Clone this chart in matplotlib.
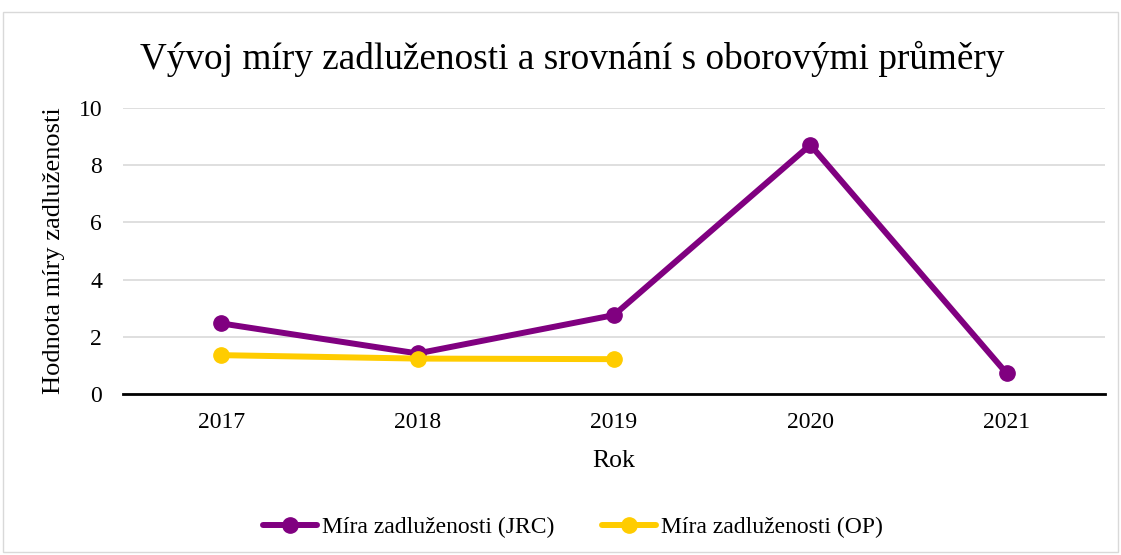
import numpy as np
import matplotlib.pyplot as plt
from matplotlib.patches import Rectangle

# data
years = ["2017", "2018", "2019", "2020", "2021"]
jrc = [2.47, 1.42, 2.76, 8.71, 0.72]
op = [1.36, 1.24, 1.22]   # 2017-2019 only

plt.rcParams['font.family'] = ['Liberation Serif', 'DejaVu Serif']

fig = plt.figure(figsize=(11.21, 5.55), dpi=100)
ax = fig.add_axes([0.1097, 0.29, 0.876, 0.5154])

# light frame around the whole chart
fig.patches.append(Rectangle((0.003, 0.005), 0.994, 0.973, transform=fig.transFigure,
                             fill=False, edgecolor='#D9D9D9', linewidth=1))

x = np.arange(len(years))
ax.plot(x, jrc, color='#800080', linewidth=4.3, marker='o', markersize=11,
        label='Míra zadluženosti (JRC)', solid_capstyle='round')
ax.plot(x[:len(op)], op, color='#FFCC00', linewidth=4.3, marker='o', markersize=11,
        label='Míra zadluženosti (OP)', solid_capstyle='round')

ax.set_xlim(-0.5, len(years) - 0.5)
ax.set_ylim(0, 10)
ax.set_yticks(np.arange(0, 11, 2))
ax.set_xticks(x)
ax.set_xticklabels(years)
ax.tick_params(axis='both', length=0, labelsize=17)
ax.tick_params(axis='y', pad=15)
ax.tick_params(axis='x', pad=13)
ax.yaxis.grid(True, color='#D9D9D9', linewidth=1.2)
ax.set_axisbelow(True)
for s in ['top', 'right', 'left']:
    ax.spines[s].set_visible(False)
ax.spines['bottom'].set_linewidth(2)
ax.spines['bottom'].set_color('black')

ax.set_xlabel('Rok', fontsize=18.5, labelpad=12)
ax.set_ylabel('Hodnota míry zadluženosti', fontsize=19, labelpad=10)
fig.text(0.51, 0.893, 'Vývoj míry zadluženosti a srovnání s oborovými průměry',
         ha='center', va='center', fontsize=26.8)

fig.legend(loc='center', bbox_to_anchor=(0.511, 0.05), ncol=2, frameon=False,
           fontsize=17, handlelength=2.3, columnspacing=2, handletextpad=0.2)

fig.savefig('out.png', dpi=100)
